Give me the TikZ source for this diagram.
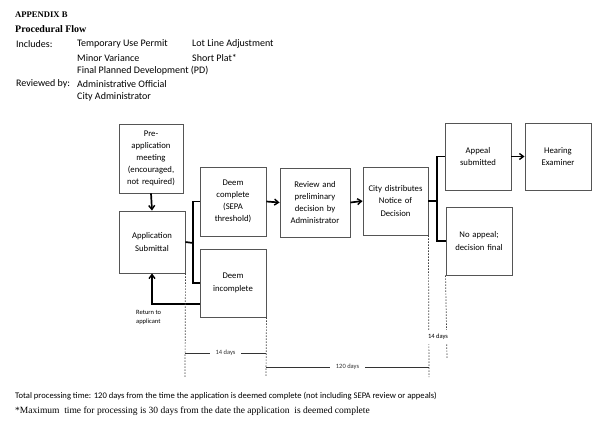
\documentclass[tikz,border=0pt]{standalone}
\usepackage{fontspec}
\setmainfont{Carlito}
\newfontfamily\timesf{Liberation Serif}
\usetikzlibrary{arrows.meta}
\definecolor{boxgray}{HTML}{555555}
\begin{document}
\begin{tikzpicture}[x=1pt,y=-1pt,
  flowbox/.style={draw=boxgray,line width=0.9pt,inner sep=1pt,align=center,
    font=\fontsize{8.7}{12.2}\selectfont,text width=#1},
  flowbox/.default=62pt,
  conn/.style={line width=1.7pt,black},
  arr/.style={conn,-{Straight Barb[length=4pt,width=6pt,line width=1.4pt]}},
  guide/.style={line width=0.7pt,dash pattern=on 1.5pt off 1.5pt,black!75},
  hdr/.style={anchor=west,inner sep=0pt,font=\fontsize{10}{12}\selectfont},
  small/.style={inner sep=1pt,font=\fontsize{6.5}{8}\selectfont},
]
\useasboundingbox (0,0) rectangle (600,429);
% header
\node[hdr,font=\timesf\bfseries\fontsize{8.6}{11}\selectfont] (h1) at (15,15) {APPENDIX B};
\node[hdr,font=\timesf\bfseries\fontsize{10}{12}\selectfont] (h2) at (15,29) {Procedural Flow};
\node[hdr] (inc) at (16,44) {Includes:};
\node[hdr] (i1) at (77,44) {Temporary Use Permit};
\node[hdr] (i2) at (192,44) {Lot Line Adjustment};
\node[hdr] (i3) at (77,58) {Minor Variance};
\node[hdr] (i4) at (192,58) {Short Plat*};
\node[hdr] (i5) at (77,71) {Final Planned Development (PD)};
\node[hdr] (rb) at (16,84) {Reviewed by:};
\node[hdr] (r1) at (77,84) {Administrative Official};
\node[hdr] (r2) at (77,97) {City Administrator};
% boxes
\node[flowbox,minimum width=64pt,minimum height=69pt] (pre) at (151,158.5) {Pre-\\application\\meeting\\(encouraged,\\not required)};
\node[flowbox,minimum width=66pt,minimum height=62pt] (app) at (152,242) {Application\\Submittal\\[6pt]};
\node[flowbox,minimum width=66pt,minimum height=69pt] (dc) at (233,201.5) {Deem\\complete\\(SEPA\\threshold)};
\node[flowbox,minimum width=66pt,minimum height=68pt] (di) at (233,283) {Deem\\incomplete\\[8pt]};
\node[flowbox,minimum width=70pt,minimum height=69pt] (rev) at (315,202.5) {Review and\\preliminary\\decision by\\Administrator};
\node[flowbox,minimum width=65pt,minimum height=68pt] (city) at (395.5,201) {City distributes\\Notice of\\Decision};
\node[flowbox,minimum width=66pt,minimum height=67pt] (appeal) at (478,156.5) {Appeal\\submitted\\[8pt]};
\node[flowbox,minimum width=66pt,minimum height=67pt] (hear) at (558,156.5) {Hearing\\Examiner\\[8pt]};
\node[flowbox,minimum width=66pt,minimum height=68pt] (noap) at (479,241) {No appeal;\\decision final};
% connectors
\coordinate (b1) at (193,243);
\coordinate (b2) at (437,201);
\coordinate (ret) at (200,304);
\draw[arr] (pre.south) -- (app.north);
\draw[conn] (app.east) -- (b1);
\draw[conn] (dc.west) -| (b1) |- (di.west);
\draw[arr] (dc.east) -- (rev.west);
\draw[arr] (rev.east) -- (city.west);
\draw[conn] (city.east) -- (b2);
\draw[conn] (appeal.west) -| (b2) |- (noap.west);
\draw[arr] (appeal.east) -- (hear.west);
\draw[arr] (ret) -| (app.south);
\node[small,align=left,anchor=north west,font=\fontsize{6.5}{9}\selectfont] (rt) at (135,309) {Return to\\applicant};
% timeline guides
\coordinate (g1b) at (185,377);
\coordinate (g2b) at (266,377);
\coordinate (g3b) at (429,377);
\coordinate (g4b) at (447,358);
\draw[guide] (app.south east) -- (g1b);
\draw[guide] (di.south east) -- (g2b);
\draw[guide] (city.south east) -- (g3b);
\draw[guide] (noap.south west) -- (g4b);
\coordinate (t1a) at (185,353);
\coordinate (t1b) at (266,353);
\coordinate (t2a) at (266,367);
\coordinate (t2b) at (429,367);
\draw[line width=0.8pt,black!80] (t1a) -- node[small,fill=white,inner xsep=6pt] (d14) {14 days} (t1b);
\draw[line width=0.8pt,black!80] (t2a) -- node[small,fill=white,inner xsep=6pt] (d120) {120 days} (t2b);
\node[small,fill=white,inner ysep=4pt] (d14b) at (438,337) {14 days};
% footer
\node[anchor=west,inner sep=0pt,font=\fontsize{8.6}{10}\selectfont] (tot) at (15,396) {Total processing time: 120 days from the time the application is deemed complete (not including SEPA review or appeals)};
\node[anchor=west,inner sep=0pt,font=\timesf\fontsize{9.5}{11}\selectfont] (max) at (15,411) {*Maximum\ \ time for processing is 30 days from the date the application\ \ is deemed complete};
\end{tikzpicture}
\end{document}
